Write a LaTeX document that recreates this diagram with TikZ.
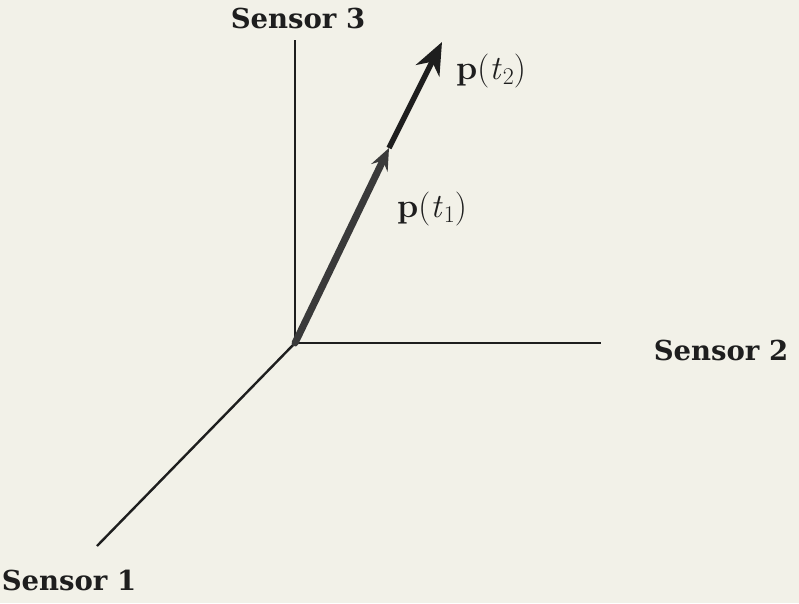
\documentclass[tikz,border=0pt]{standalone}
\usepackage{fontspec}
\setmainfont{Latin Modern Roman}
\newfontfamily\lblfont{DejaVu Serif}
\usetikzlibrary{arrows.meta}
\definecolor{bg}{HTML}{F2F1E8}
\definecolor{ink}{HTML}{1E1E1E}
\definecolor{vecgray}{HTML}{3A3A3A}
\newcommand{\vlab}[1]{\textbf{p}(\textit{t}\kern1pt\raisebox{-0.35ex}{\fontsize{24}{26}\selectfont #1})}
\begin{document}
\begin{tikzpicture}[x=1pt,y=-1pt,
  axis/.style={draw=ink,line width=2.4pt},
  lbl/.style={font=\lblfont\fontsize{27.5}{30}\selectfont\bfseries,text=ink,inner sep=0pt},
  vlbl/.style={font=\fontsize{34}{37}\selectfont,text=ink,inner sep=0pt}]
\fill[bg] (0,0) rectangle (799,603);
\useasboundingbox (0,0) rectangle (799,603);
\coordinate (O) at (295,343);
\coordinate (s3) at (295,40);
\coordinate (s2) at (601,343);
\coordinate (s1) at (97,546);
\coordinate (p1) at (389,148);
\coordinate (p2) at (442,42);
\draw[axis] (O) -- (s3);
\draw[axis] (O) -- (s2);
\draw[axis] (O) -- (s1);
\draw[draw=ink,line width=5.5pt,-{Stealth[length=32pt,width=26pt,inset=10pt]}] (p1) -- (p2);
\draw[draw=vecgray,line width=7pt,line cap=round,-{Stealth[length=22pt,width=18pt,inset=8pt]}] (O) -- (p1);
\node[lbl] (l3) at (298,18) {Sensor 3};
\node[lbl] (l2) at (721,350) {Sensor 2};
\node[lbl] (l1) at (69,580) {Sensor 1};
\node[vlbl] (t2) at (491,71) {\vlab{2}};
\node[vlbl] (t1) at (432,209) {\vlab{1}};
\end{tikzpicture}
\end{document}
